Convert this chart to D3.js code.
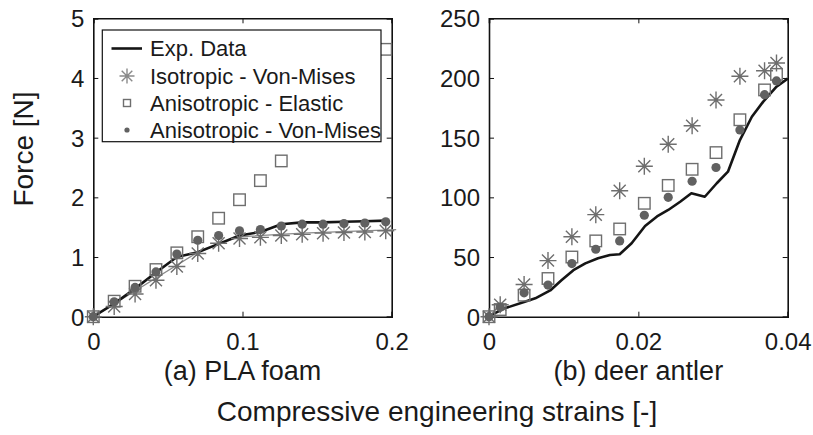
<!DOCTYPE html>
<html><head><meta charset="utf-8">
<script src="https://cdn.jsdelivr.net/npm/d3@7"></script>
<style>
html,body{margin:0;padding:0;background:#fff;}
svg text{font-family:"Liberation Sans",Arial,Helvetica,sans-serif;fill:#1a1a1a;}
</style></head>
<body><svg id="c" width="813" height="435"></svg>
<script>
// ---------- Data ----------
const seriesNames = ["Exp. Data", "Isotropic - Von-Mises", "Anisotropic - Elastic", "Anisotropic - Von-Mises"];

// (a) PLA foam
const plaStrain   = [0, 0.014, 0.028, 0.042, 0.056, 0.070, 0.084, 0.098, 0.112, 0.126, 0.140, 0.154, 0.168, 0.182, 0.196];
const plaExp      = [0, 0.22, 0.47, 0.74, 1.00, 1.08, 1.22, 1.36, 1.42, 1.55, 1.58, 1.58, 1.59, 1.60, 1.61];
const plaIsoVM    = [0, 0.17, 0.38, 0.61, 0.84, 1.06, 1.23, 1.31, 1.33, 1.36, 1.38, 1.40, 1.41, 1.42, 1.44];
const plaAniEl    = [0, 0.26, 0.51, 0.79, 1.07, 1.34, 1.65, 1.96, 2.28, 2.61, 3.06, 3.40, 3.78, 4.12, 4.48];
const plaAniVM    = [0, 0.25, 0.49, 0.75, 1.05, 1.28, 1.36, 1.44, 1.46, 1.52, 1.55, 1.55, 1.56, 1.57, 1.59];
const plaIsoCurveX = [0, 0.070, 0.098, 0.140, 0.203];
const plaIsoCurveY = [0, 1.08, 1.34, 1.40, 1.46];

// (b) deer antler
const antStrain   = [0, 0.0015, 0.0047, 0.0079, 0.0111, 0.0143, 0.0175, 0.0208, 0.0240, 0.0272, 0.0304, 0.0336, 0.0369, 0.0385];
const antIsoVM    = [0, 10, 27, 47, 67, 85.5, 105.5, 126, 144.5, 160, 181.5, 201.5, 206, 212.5];
const antAniEl    = [0, 6, 18, 32, 50, 63.5, 73.5, 95, 110, 123.5, 137.5, 165, 190, 203];
const antAniVM    = [0, 8, 20, 26.5, 44.5, 56.5, 63.5, 85, 100, 113.5, 125, 156.5, 186, 197.5];
const antExpX     = [0, 0.0008, 0.0021, 0.0048, 0.0062, 0.0082, 0.0097, 0.0113, 0.0129, 0.0146, 0.0162, 0.0175, 0.0191, 0.0209, 0.0225, 0.0240, 0.0256, 0.0271, 0.0289, 0.0305, 0.0320, 0.0336, 0.0352, 0.0367, 0.0385, 0.0400];
const antExpY     = [0, 3, 7, 12.6, 15.4, 22, 30.5, 39, 44.7, 49, 51.7, 52.3, 61.5, 76, 84, 89.4, 96.3, 103.4, 100.5, 111.8, 121.5, 148, 167.5, 180, 192.7, 199.5];

const plaXTicks = [0, 0.1, 0.2];
const plaYTicks = [0, 1, 2, 3, 4, 5];
const antXTicks = [0, 0.02, 0.04];
const antYTicks = [0, 50, 100, 150, 200, 250];
const panelTitles = ["(a) PLA foam", "(b) deer antler"];
const yTitle = "Force [N]";
const xTitle = "Compressive engineering strains [-]";

// ---------- Drawing ----------
const svg = d3.select("#c");
const yTop = 18.3, yBot = 316.7;
const FS_TICK = 24, FS_TITLE = 28, FS_SUB = 27, FS_LEG = 22;
const grayMk = "#6e6e6e", grayFill = "#616161";

function star(g, x, y, r) {
  const d = r * Math.SQRT1_2;
  g.append("path")
    .attr("d", `M${x-r},${y}L${x+r},${y}M${x},${y-r}L${x},${y+r}M${x-d},${y-d}L${x+d},${y+d}M${x-d},${y+d}L${x+d},${y-d}`)
    .attr("stroke", grayMk).attr("stroke-width", 1.4).attr("fill", "none");
}
function square(g, x, y, s) {
  g.append("rect").attr("x", x - s/2).attr("y", y - s/2).attr("width", s).attr("height", s)
    .attr("fill", "none").attr("stroke", grayMk).attr("stroke-width", 1.4);
}
function dot(g, x, y, r) {
  g.append("circle").attr("cx", x).attr("cy", y).attr("r", r).attr("fill", grayFill);
}

function panel(opt) {
  const x = d3.scaleLinear().domain(opt.xd).range([opt.left, opt.right]);
  const y = d3.scaleLinear().domain(opt.yd).range([yBot, yTop]);
  const g = svg.append("g");

  const tl = 5;
  const ax = [
    [d3.axisBottom(x).tickValues(opt.xt).tickSize(-tl).tickFormat(d3.format("~g")), `translate(0,${yBot})`],
    [d3.axisTop(x).tickValues(opt.xt).tickSize(-tl).tickFormat(""), `translate(0,${yTop})`],
    [d3.axisLeft(y).tickValues(opt.yt).tickSize(-tl).tickFormat(d3.format("~g")), `translate(${opt.left},0)`],
    [d3.axisRight(y).tickValues(opt.yt).tickSize(-tl).tickFormat(""), `translate(${opt.right},0)`]
  ];
  ax.forEach(([a, tr], i) => {
    const ag = g.append("g").attr("transform", tr).call(a);
    ag.select(".domain").attr("stroke", "#111").attr("stroke-width", 1.6);
    ag.selectAll(".tick line").attr("stroke", "#111").attr("stroke-width", 1);
    ag.selectAll(".tick text").attr("font-size", FS_TICK).attr("fill", "#1a1a1a")
      .style("font-family", '"Liberation Sans",Arial,sans-serif');
    if (i === 0) ag.selectAll(".tick text").attr("dy", null).attr("y", 33);
    if (i === 2) ag.selectAll(".tick text").attr("x", -9).attr("dy", "0.36em");
  });

  const plot = g.append("g");
  const line = d3.line().x(d => x(d[0])).y(d => y(d[1]));
  if (opt.extra) {
    plot.append("path").datum(d3.zip(opt.extra[0], opt.extra[1])).attr("d", line)
      .attr("fill", "none").attr("stroke", "#8a8a8a").attr("stroke-width", 1.3);
  }
  plot.append("path").datum(d3.zip(opt.expX, opt.expY)).attr("d", line)
    .attr("fill", "none").attr("stroke", "#151515").attr("stroke-width", 2.6).attr("stroke-linejoin", "round");
  opt.mx.forEach((v, i) => star(plot, x(v), y(opt.iso[i]), 8.5));
  opt.mx.forEach((v, i) => square(plot, x(v), y(opt.el[i]), 11.5));
  opt.mx.forEach((v, i) => dot(plot, x(v), y(opt.vm[i]), 4.6));

  g.append("text").attr("x", (opt.left + opt.right) / 2).attr("y", 380)
    .attr("text-anchor", "middle").attr("font-size", FS_SUB).text(opt.title);
  return g;
}

const gA = panel({left: 93.3, right: 391.7, xd: [0, 0.2], yd: [0, 5], xt: plaXTicks, yt: plaYTicks,
  expX: plaStrain, expY: plaExp, mx: plaStrain, iso: plaIsoVM, el: plaAniEl, vm: plaAniVM,
  extra: [plaIsoCurveX, plaIsoCurveY], title: panelTitles[0]});
panel({left: 489, right: 787.7, xd: [0, 0.04], yd: [0, 250], xt: antXTicks, yt: antYTicks,
  expX: antExpX, expY: antExpY, mx: antStrain, iso: antIsoVM, el: antAniEl, vm: antAniVM,
  title: panelTitles[1]});

// legend
const lg = gA.append("g");
lg.append("rect").attr("x", 102.3).attr("y", 30).attr("width", 278.7).attr("height", 111.7)
  .attr("fill", "#fff").attr("stroke", "#111").attr("stroke-width", 1.2);
const rowY = [48.5, 76, 103, 130];
const mkX = 127;
lg.append("line").attr("x1", 111.5).attr("x2", 142).attr("y1", rowY[0]).attr("y2", rowY[0])
  .attr("stroke", "#151515").attr("stroke-width", 2.6);
star(lg, mkX, rowY[1], 7.5);
lg.selectAll("path").attr("stroke", "#8a8a8a");
square(lg, mkX, rowY[2], 7);
dot(lg, mkX, rowY[3], 2.6);
seriesNames.forEach((s, i) => {
  lg.append("text").attr("x", 150).attr("y", rowY[i]).attr("dy", "0.36em")
    .attr("font-size", FS_LEG).text(s);
});

// axis titles
svg.append("text").attr("transform", "translate(33,149) rotate(-90)")
  .attr("text-anchor", "middle").attr("font-size", FS_TITLE).text(yTitle);
svg.append("text").attr("x", 437).attr("y", 421).attr("text-anchor", "middle")
  .attr("font-size", FS_TITLE).text(xTitle);
</script></body></html>
